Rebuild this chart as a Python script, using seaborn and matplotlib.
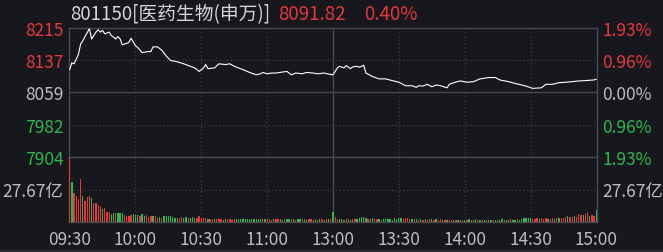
import matplotlib
matplotlib.use("Agg")
import matplotlib.pyplot as plt
import seaborn as sns
import pandas as pd

# ---------------- data ----------------
title_name = "801150[医药生物(申万)]"
title_price = "8091.82"
title_pct = "0.40%"
prev_close = 8059.6
price_range = 155.4  # = 1.93%

x_tick_pos = [0, 30, 60, 90, 120, 150, 180, 210, 240]
x_tick_labels = ["09:30", "10:00", "10:30", "11:00", "13:00", "13:30", "14:00", "14:30", "15:00"]

left_price_labels = ["8215", "8137", "8059", "7982", "7904"]
right_pct_labels = ["1.93%", "0.96%", "0.00%", "0.96%", "1.93%"]
vol_tick_value = 27.67
vol_tick_label = "27.67亿"

price_min = [0, 1, 2, 4, 5, 6, 7, 9, 10, 12, 13, 14, 15, 16, 18, 19, 21, 22, 23, 24,
             26, 27, 28, 30, 31, 33, 36, 37, 38, 40, 42, 44, 46, 49, 52, 55, 57, 59, 61, 62,
             63, 66, 68, 71, 73, 75, 79, 82, 85, 87, 88, 90, 92, 94, 97, 99, 101, 103, 106, 108,
             111, 113, 116, 118, 120, 122, 123, 125, 126, 128, 129, 131, 132, 134, 135, 138, 141, 144, 147, 150,
             151, 153, 156, 158, 159, 161, 163, 165, 167, 169, 172, 173, 175, 178, 181, 184, 187, 191, 194, 196,
             200, 204, 208, 211, 215, 217, 220, 223, 226, 229, 232, 235, 239, 240]
price_val = [8114.6, 8131.1, 8128.7, 8151.6, 8176.3, 8184.4, 8194.3, 8213.3, 8188.6, 8205.1,
             8210.8, 8205.1, 8209.1, 8200.9, 8205.1, 8196.7, 8188.6, 8194.3, 8188.6, 8174.5,
             8178.0, 8180.5, 8190.3, 8172.1, 8168.1, 8155.8, 8158.3, 8158.3, 8169.6, 8169.6,
             8161.5, 8147.4, 8136.8, 8133.6, 8128.7, 8122.7, 8118.8, 8110.4, 8118.8, 8126.9,
             8117.1, 8118.8, 8128.7, 8126.9, 8128.7, 8122.7, 8114.6, 8107.9, 8102.3, 8104.7,
             8107.9, 8104.7, 8106.5, 8106.5, 8108.9, 8110.4, 8102.3, 8106.5, 8104.7, 8107.9,
             8106.5, 8104.7, 8106.5, 8104.0, 8102.3, 8118.8, 8122.7, 8118.8, 8124.5, 8117.1,
             8121.3, 8122.7, 8120.3, 8125.2, 8106.5, 8098.1, 8092.4, 8092.4, 8088.2, 8084.3,
             8081.8, 8075.9, 8075.9, 8071.9, 8075.9, 8075.1, 8079.3, 8073.4, 8077.6, 8075.9,
             8070.9, 8079.3, 8083.3, 8087.5, 8084.3, 8085.7, 8092.4, 8095.6, 8095.6, 8089.9,
             8085.7, 8080.1, 8075.1, 8069.5, 8070.9, 8079.3, 8079.3, 8083.3, 8084.3, 8085.7,
             8087.5, 8088.2, 8089.9, 8091.8]

# volume per minute (亿)
vol = [55.3, 34.0, 24.5, 22.5, 19.6, 36.9, 22.5, 18.2, 21.6, 22.5,
       20.5, 16.2, 16.0, 14.4, 13.3, 11.0, 11.5, 8.6, 8.6, 6.6,
       7.5, 7.5, 7.5, 7.5, 7.5, 5.8, 5.2, 4.8, 5.8, 6.6,
       5.8, 5.8, 5.2, 6.6, 5.2, 5.8, 4.5, 5.2, 4.8, 4.8,
       3.7, 4.3, 3.5, 4.8, 4.8, 4.8, 4.8, 4.0, 3.5, 3.5,
       3.5, 4.0, 3.5, 4.0, 3.0, 3.5, 4.5, 3.5, 3.0, 5.0,
       3.0, 3.0, 3.0, 2.6, 2.9, 2.4, 2.2, 2.8, 2.6, 2.2,
       2.0, 2.6, 2.9, 2.4, 2.1, 2.3, 2.6, 2.4, 2.8, 2.5,
       2.6, 2.7, 2.5, 2.6, 2.8, 2.4, 2.9, 2.5, 2.6, 2.3,
       2.2, 2.5, 2.0, 2.4, 2.7, 2.2, 2.5, 2.1, 2.6, 2.3,
       2.8, 2.2, 2.4, 2.0, 2.6, 2.9, 2.3, 2.5, 2.1, 2.2,
       2.4, 2.0, 2.3, 2.1, 2.5, 2.2, 2.0, 2.4, 2.3, 2.6,
       8.6, 4.3, 2.4, 2.2, 2.6, 2.0, 2.3, 2.5, 2.1, 2.8,
       2.4, 2.2, 3.0, 4.0, 4.3, 3.5, 2.6, 2.3, 3.4, 2.5,
       2.2, 2.6, 2.0, 2.4, 2.3, 2.8, 2.5, 2.1, 3.0, 2.6,
       3.6, 3.4, 2.8, 3.2, 3.0, 2.5, 2.7, 2.2, 2.6, 2.0,
       2.4, 2.1, 2.3, 2.0, 2.5, 2.2, 2.0, 2.4, 1.8, 2.2,
       2.0, 1.8, 2.1, 1.7, 1.9, 1.6, 2.0, 1.8, 1.7, 2.0,
       1.8, 1.6, 2.2, 1.9, 1.7, 2.4, 1.8, 2.0, 1.6, 1.9,
       1.7, 2.1, 1.8, 1.6, 2.0, 1.9, 1.7, 2.2, 1.8, 2.0,
       1.9, 2.3, 1.8, 2.1, 2.4, 2.0, 2.6, 3.5, 3.8, 3.2,
       3.6, 2.8, 2.6, 3.0, 2.8, 3.2, 2.7, 3.1, 2.5, 2.9,
       3.4, 2.8, 3.6, 3.0, 3.8, 3.2, 4.2, 4.8, 3.9, 4.6,
       5.0, 4.4, 7.2, 5.6, 6.0, 7.0, 8.5, 4.8, 6.2, 5.0,
       10.0]
vol_dir = list(
    "RGRRRRGRRR" "GRRRRGRRRG" "GRGGGRRRRG" "GGRGGRRRGR" "RGRGGGGGGG"
    "RRGGRGGGRR" "RRRGRRGRRR" "GGRRRRGGGG" "GGGGGGGGRG" "RRRGRRGGRG"
    "GRGRGGRGGR" "RGRGGRGRGR" "GRRGGRGRGR" "RGGGGGRGGR" "RGRGGGGRGG"
    "GGRRRRGRGR" "GRGRRGRGRR" "GRGRRGRGGR" "GRGRGGRGRG" "RGGRGRGGRG"
    "GRGGRGGGGG" "GRRRGRRRGR" "RGRGRRRGRR" "GRRRGRRGRR" "G"
)
vol_min = list(range(len(vol)))

# ---------------- style ----------------
BG = "#16181d"
RED = "#e8363e"
GREEN = "#2cb650"
GRAY_TXT = "#bdbdbd"
TITLE_TXT = "#d6d6d6"
SOLID = "#45484f"
DOT = "#3b3e45"
FONT = ["Noto Sans CJK SC", "DejaVu Sans"]

sns.set_theme(style="dark")
plt.rcParams["font.family"] = FONT
plt.rcParams["axes.facecolor"] = BG
plt.rcParams["figure.facecolor"] = BG

W, H = 663, 253
fig = plt.figure(figsize=(W / 100, H / 100), dpi=100, facecolor=BG)
L, R, T, M, B = 69, 597, 29, 158, 223
ax_p = fig.add_axes([L / W, 1 - M / H, (R - L) / W, (M - T) / H])
ax_v = fig.add_axes([L / W, 1 - B / H, (R - L) / W, (B - M) / H], sharex=ax_p)

# price line
sns.lineplot(x=price_min, y=price_val, ax=ax_p, color="white", linewidth=0.8,
             estimator=None, zorder=5)

# volume bars
df = pd.DataFrame({"minute": vol_min, "vol": vol, "dir": vol_dir})
sns.barplot(data=df, x="minute", y="vol", hue="dir", palette={"R": RED, "G": GREEN},
            native_scale=True, dodge=False, width=0.6, errorbar=None, saturation=1,
            legend=False, ax=ax_v, linewidth=0, zorder=5)

ylo, yhi = prev_close - price_range, prev_close + price_range
price_ticks = [yhi, prev_close + price_range / 2, prev_close,
               prev_close - price_range / 2, ylo]
label_colors = [RED, RED, GRAY_TXT, GREEN, GREEN]

for ax in (ax_p, ax_v):
    ax.set_facecolor(BG)
    ax.set_xlim(-0.3, 240.3)
    ax.set_xlabel("")
    ax.set_ylabel("")
    ax.grid(False)
    for s in ax.spines.values():
        s.set_color(SOLID)
        s.set_linewidth(1.0)
        s.set_visible(True)
    for m in x_tick_pos[1:-1]:
        if m == 120:
            ax.axvline(m, color=SOLID, lw=1.0, zorder=1)
        else:
            ax.axvline(m, color=DOT, lw=0.9, ls=(0, (1, 2)), zorder=1)

ax_p.set_ylim(ylo, yhi)
ax_p.axhline(prev_close, color=SOLID, lw=1.0, zorder=1)
for v in (price_ticks[1], price_ticks[3]):
    ax_p.axhline(v, color=DOT, lw=0.9, ls=(0, (1, 2)), zorder=1)
ax_p.set_yticks(price_ticks, left_price_labels)
ax_p.tick_params(axis="y", length=0, pad=4, labelsize=12.5)
ax_p.tick_params(axis="x", length=0, labelbottom=False)
for lbl, c in zip(ax_p.get_yticklabels(), label_colors):
    lbl.set_color(c)

ax_p2 = ax_p.twinx()
ax_p2.set_ylim(ylo, yhi)
ax_p2.set_yticks(price_ticks, right_pct_labels)
ax_p2.tick_params(axis="y", length=0, pad=4, labelsize=12.5)
for lbl, c in zip(ax_p2.get_yticklabels(), label_colors):
    lbl.set_color(c)
for s in ax_p2.spines.values():
    s.set_visible(False)
ax_p2.grid(False)

vmax = 2 * vol_tick_value
ax_v.set_ylim(0, vmax)
ax_v.axhline(vol_tick_value, color=DOT, lw=0.9, ls=(0, (1, 2)), zorder=1)
ax_v.set_yticks([vol_tick_value], [vol_tick_label])
ax_v.tick_params(axis="y", length=0, pad=4, labelsize=12.5, labelcolor=GRAY_TXT)
ax_v.set_xticks(x_tick_pos, x_tick_labels)
ax_v.tick_params(axis="x", length=0, pad=6, labelsize=12.4, labelcolor=GRAY_TXT)

ax_v2 = ax_v.twinx()
ax_v2.set_ylim(0, vmax)
ax_v2.set_yticks([vol_tick_value], [vol_tick_label])
ax_v2.tick_params(axis="y", length=0, pad=4, labelsize=12.5, labelcolor=GRAY_TXT)
for s in ax_v2.spines.values():
    s.set_visible(False)
ax_v2.grid(False)

# header
ty = 1 - 14.5 / H
fig.text(70 / W, ty, title_name, color=TITLE_TXT, fontsize=13.5, va="center", ha="left")
fig.text(278 / W, ty, title_price, color=RED, fontsize=13.5, va="center", ha="left")
fig.text(364 / W, ty, title_pct, color=RED, fontsize=13.5, va="center", ha="left")

# bottom strip
fig.add_artist(plt.Line2D([0, 1], [1.5 / H, 1.5 / H], transform=fig.transFigure,
                          color="#2e3035", lw=2))

fig.savefig("out.png", dpi=100, facecolor=BG)
